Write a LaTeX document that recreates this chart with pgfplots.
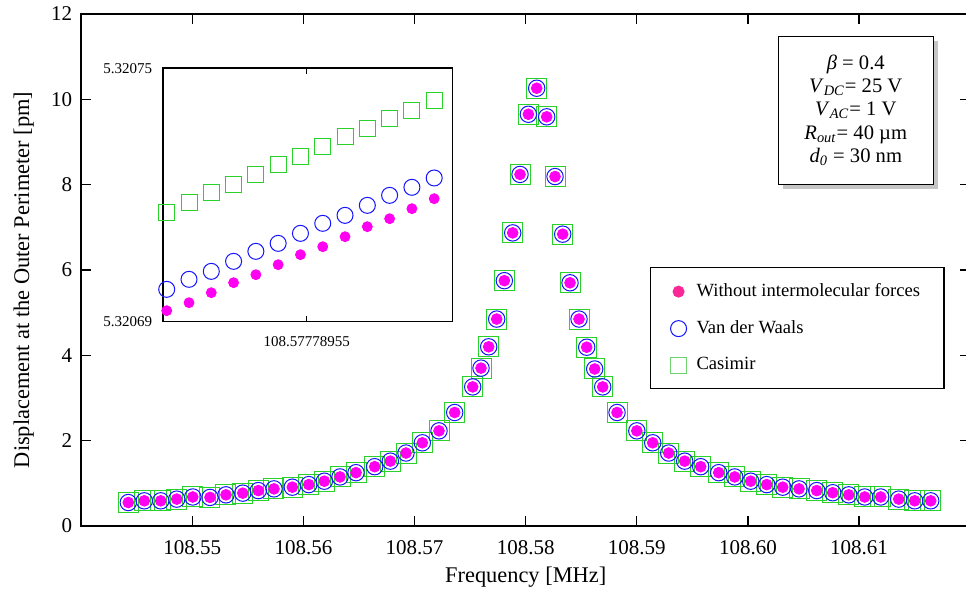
\documentclass[border=0pt]{standalone}
\usepackage{fontspec}
\setmainfont{Liberation Serif}
\usepackage{pgfplots}
\usepackage{pgfplotstable}
\pgfplotsset{compat=1.18}
\usetikzlibrary{shadows}

\definecolor{dotmag}{RGB}{255,0,240}
\definecolor{vdwblue}{RGB}{20,20,255}
\definecolor{casgreen}{RGB}{40,210,40}
\definecolor{legpink}{RGB}{250,40,150}
\definecolor{leggreen}{RGB}{110,210,110}

\pgfplotsset{onemark legend/.style={
    legend image code/.code={\draw[##1] plot coordinates {(0pt,0pt)};}}}

% frequency as offset from 108.54 MHz, in kHz (keeps FPU precision);
% the three models coincide at this scale
\pgfplotstableread{
f     disp
4.24  0.55
5.68  0.59
7.16  0.59
8.60  0.63
10.04 0.68
11.59 0.67
13.03 0.73
14.54 0.77
15.94 0.83
17.35 0.87
19.00 0.91
20.48 0.97
21.88 1.05
23.29 1.15
24.73 1.25
26.41 1.39
27.82 1.52
29.23 1.71
30.70 1.95
32.20 2.23
33.61 2.66
35.23 3.26
35.98 3.70
36.67 4.20
37.39 4.85
38.08 5.75
38.83 6.87
39.49 8.24
40.24 9.65
40.99 10.26
41.89 9.59
42.64 8.19
43.33 6.84
43.99 5.70
44.80 4.85
45.49 4.19
46.21 3.68
46.93 3.26
48.22 2.66
50.00 2.23
51.43 1.95
52.87 1.71
54.31 1.52
55.75 1.39
57.37 1.25
58.81 1.15
60.25 1.05
61.69 0.97
63.13 0.91
64.60 0.87
66.19 0.83
67.63 0.78
69.07 0.73
70.51 0.68
71.95 0.68
73.57 0.63
75.01 0.59
76.45 0.59
}\maindata

% inset: point index, displacement as (d - 5.32069 pm) * 1e5
\pgfplotstableread{
i  wo    vdw   cas
0  0.261 0.766 2.589
1  0.450 1.003 2.826
2  0.687 1.192 3.063
3  0.924 1.429 3.253
4  1.113 1.666 3.489
5  1.350 1.855 3.726
6  1.587 2.092 3.916
7  1.776 2.329 4.153
8  2.013 2.518 4.389
9  2.250 2.755 4.579
10 2.439 2.992 4.816
11 2.676 3.182 5.005
12 2.913 3.403 5.242
}\insetdata

\begin{document}
\begin{tikzpicture}
\begin{axis}[
    at={(40.6pt,32pt)}, anchor=south west,
    scale only axis, width=444.5pt, height=256pt,
    xmin=0, xmax=80, ymin=0, ymax=12,
    xtick={10,20,...,70},
    xticklabels={108.55,108.56,108.57,108.58,108.59,108.60,108.61},
    ytick={0,2,...,12},
    tick align=inside, major tick length=5pt,
    axis line style={line width=0.7pt},
    every tick/.style={black, line width=0.6pt},
    /pgf/number format/assume math mode=true,
    tick label style={font=\fontsize{10.5}{12}\selectfont},
    xticklabel style={yshift=-3.5pt},
    yticklabel style={xshift=-1pt},
    xlabel={Frequency [MHz]},
    ylabel={Displacement at the Outer Perimeter [pm]},
    label style={font=\fontsize{11.2}{13}\selectfont},
    xlabel style={at={(axis description cs:0.5,-0.1094)}, anchor=base},
    ylabel style={at={(axis description cs:-0.0587,0.4805)}, anchor=base},
    legend cell align=left,
    legend style={at={(0.6398,0.5059)}, anchor=north west,
        draw=black, line width=0.6pt, fill=white,
        font=\fontsize{9.3}{11}\selectfont,
        inner xsep=10pt, inner ysep=6pt, row sep=6.5pt,
        /tikz/every odd column/.append style={column sep=3pt}},
]
\addlegendimage{only marks, mark=*, mark size=2.7pt, color=legpink, onemark legend}
\addlegendentry{Without intermolecular forces}
\addlegendimage{only marks, mark=o, mark size=4pt, color=vdwblue, line width=0.5pt, onemark legend}
\addlegendentry{Van der Waals}
\addlegendimage{only marks, mark=square, mark size=4pt, color=leggreen, line width=0.5pt, onemark legend}
\addlegendentry{Casimir}

\addplot[forget plot, only marks, mark=square, mark size=5pt, casgreen, line width=0.5pt]
    table[x=f, y=disp] {\maindata};
\addplot[forget plot, only marks, mark=o, mark size=4.1pt, vdwblue, line width=0.5pt]
    table[x=f, y=disp] {\maindata};
\addplot[forget plot, only marks, mark=*, mark size=2.7pt, dotmag]
    table[x=f, y=disp] {\maindata};
\end{axis}

\begin{axis}[
    at={(81.35pt,134.15pt)}, anchor=south west,
    scale only axis, width=145pt, height=126.7pt,
    xmin=-0.18, xmax=12.83, ymin=0, ymax=6,
    xtick={6.28}, xticklabels={108.57778955},
    ytick={0,6}, yticklabels={5.32069,5.32075},
    tick align=inside, major tick length=3pt,
    axis line style={line width=0.8pt},
    every tick/.style={black, line width=0.8pt},
    axis background/.style={fill=white},
    tick label style={font=\fontsize{7.5}{9}\selectfont},
    xticklabel style={yshift=-4pt},
    yticklabel style={xshift=-1.8pt},
]
\addplot[only marks, mark=square, mark size=4pt, casgreen, line width=0.5pt]
    table[x=i, y=cas] {\insetdata};
\addplot[only marks, mark=o, mark size=4pt, vdwblue, line width=0.5pt]
    table[x=i, y=vdw] {\insetdata};
\addplot[only marks, mark=*, mark size=2.5pt, dotmag]
    table[x=i, y=wo] {\insetdata};
\end{axis}

\node[draw, line width=0.6pt, fill=white,
      drop shadow={shadow xshift=2.5pt, shadow yshift=-2.5pt, fill=black!45, opacity=0.5},
      minimum width=77.5pt, minimum height=74pt, inner sep=0pt,
      align=center, font=\fontsize{10.3}{11.7}\selectfont]
  at (427.9pt,239.9pt)
  {\textit{β} = 0.4\\
   \textit{V}\textsubscript{\textit{DC}}= 25 V\\
   \textit{V}\textsubscript{\textit{AC}}= 1 V\\
   \textit{R}\textsubscript{\textit{out}}= 40 µm\\
   \textit{d}\textsubscript{\textit{0}} = 30 nm};

\pgfresetboundingbox
\useasboundingbox (0pt,0pt) rectangle (483pt,295pt);
\end{tikzpicture}
\end{document}
